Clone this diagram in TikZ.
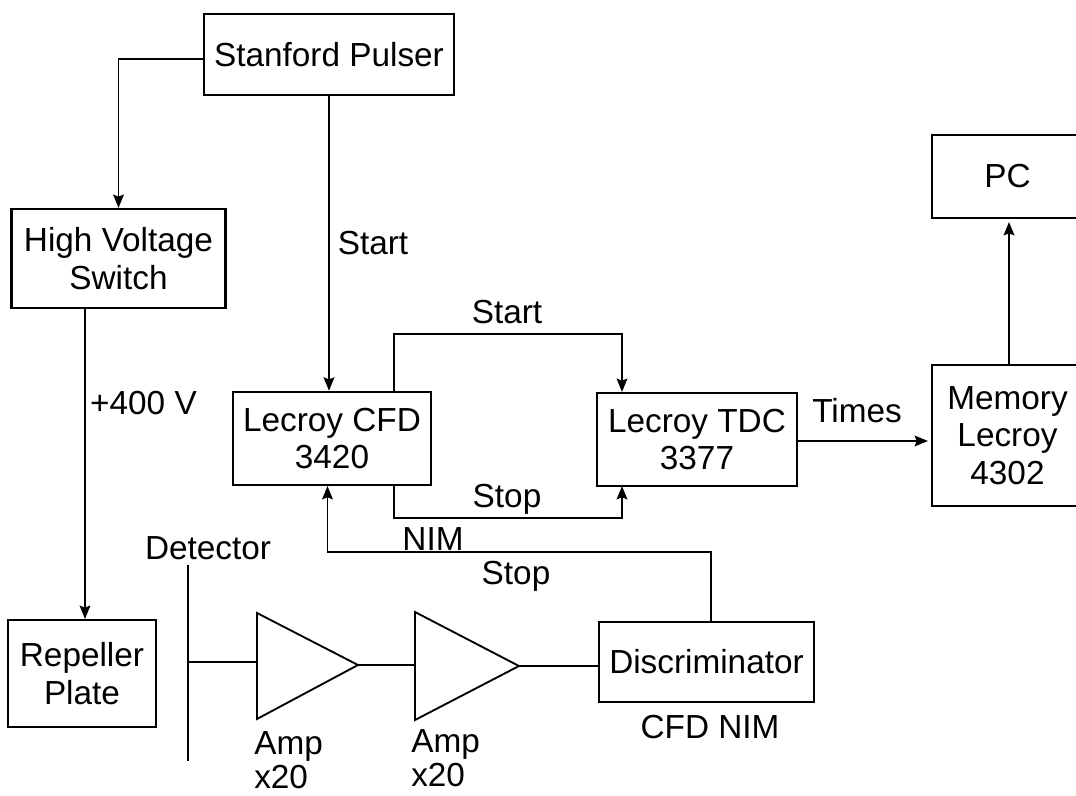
\documentclass[tikz,border=0pt]{standalone}
\usepackage{fontspec}
\setmainfont{Liberation Sans}
\usetikzlibrary{arrows.meta,positioning,calc}
\tikzset{
  unitbox/.style={draw, line width=1.6pt, align=center},
  lbl/.style={align=center, inner sep=0pt},
  amplbl/.style={lbl, align=left, anchor=north west, font=\fontsize{25}{26}\selectfont},
  wire/.style={line width=1.4pt},
  feed/.style={wire, -{Stealth[length=10pt, width=8pt, inset=1.5pt]}}
}

\begin{document}
\begin{tikzpicture}[x=0.75pt, y=-0.75pt, font=\fontsize{25}{28}\selectfont]
  \useasboundingbox (0,0) rectangle (1076,796);
  % boxes of the timing chain
  \node[unitbox, minimum width=187.5pt, minimum height=60.75pt] (pulser) at (329,54.5) {Stanford Pulser};
  \node[unitbox, minimum width=160.5pt, minimum height=74.25pt] (hvswitch) at (118.5,258.5) {High Voltage\\Switch};
  \node[unitbox, minimum width=111pt, minimum height=80.25pt] (repeller) at (82,673.5) {Repeller\\Plate};
  \node[unitbox, minimum width=148.5pt, minimum height=70pt] (cfd) at (332,438.5) {Lecroy CFD\\3420};
  \node[unitbox, minimum width=150pt, minimum height=69.75pt] (tdc) at (697,439.5) {Lecroy TDC\\3377};
  % these two run off the right edge
  \node[unitbox, minimum width=113.25pt, minimum height=105.75pt] (memory) at (1007.5,435.5) {Memory\\Lecroy\\4302};
  \node[unitbox, minimum width=113.25pt, minimum height=62.25pt] (pc) at (1007.5,176.3) {PC};
  \node[unitbox, minimum width=161.25pt, minimum height=60pt] (discr) at (706.5,662) {Discriminator};
  % detector and amplifiers
  \coordinate (dettop) at (188,565);
  \coordinate (detbot) at (188,761);
  \draw[wire] (dettop) -- (detbot);
  \coordinate (ampAa) at (257,613);
  \coordinate (ampAb) at (257,719);
  \coordinate (ampAc) at (358,665);
  \coordinate (ampBa) at (415,612);
  \coordinate (ampBb) at (415,720);
  \coordinate (ampBc) at (519,666);
  \draw[wire] (ampAa) -- (ampAc) -- (ampAb) -- cycle;
  \draw[wire] (ampBa) -- (ampBc) -- (ampBb) -- cycle;
  \draw[wire] (188,662) -- (257,662);
  \draw[wire] (ampAc) -- (415,665);
  \draw[wire] (ampBc) -- (discr.west |- ampBc);
  % connectors
  \draw[feed] ([yshift=-3.5pt]pulser.west) -| (hvswitch.north);
  \coordinate (hvout) at (85,308);
  \draw[feed] (hvout) -- (hvout |- repeller.north);
  \draw[feed] (pulser.south) -- (pulser.south |- cfd.north);
  \coordinate (cfdtop) at (394,392);
  \coordinate (cfdbot) at (394,486);
  \coordinate (tdctop) at (622,392);
  \coordinate (tdcbot) at (622,486);
  \draw[feed] (cfdtop) |- (622,334) -- (tdctop);
  \draw[feed] (cfdbot) |- (622,518) -- (tdcbot);
  \coordinate (discrout) at (711,622);
  \draw[feed] (discrout) |- (327.5,552) -- (327.5,486);
  \draw[feed] (tdc.east |- 0,441) -- (928,441);
  \draw[feed] (1009,365) -- (1009,222);
  % labels
  \node[lbl] (startA) at (373,243) {Start};
  \node[lbl] (startB) at (507,312) {Start};
  \node[lbl] (stopA) at (507,499) {Stop};
  \node[lbl] (stopB) at (516,576) {Stop};
  \node[lbl] (nim) at (433,539) {NIM};
  \node[lbl] (hv) at (143.5,403) {+400 V};
  \node[lbl] (times) at (857,411) {Times};
  \node[lbl] (detector) at (208,548) {Detector};
  \node[amplbl] (ampA) at (254,731) {Amp\\x20};
  \node[amplbl] (ampB) at (411,729) {Amp\\x20};
  \node[lbl] (cfdnim) at (710,727) {CFD NIM};
\end{tikzpicture}
\end{document}
